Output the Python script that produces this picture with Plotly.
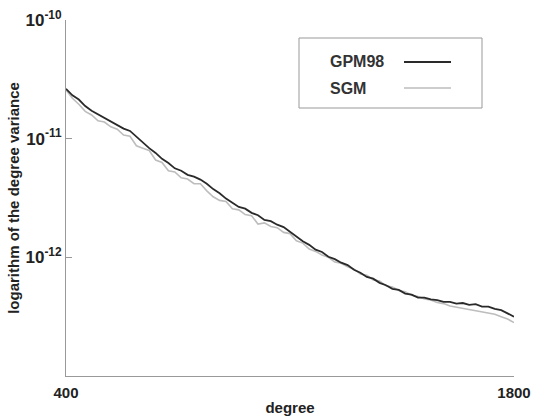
import plotly.graph_objects as go

degree = list(range(400, 1801, 20))

# log10 of degree variance
gpm98_log = [
    -10.58, -10.635, -10.67, -10.725, -10.765, -10.795, -10.825, -10.855, -10.88, -10.915,
    -10.935, -10.985, -11.03, -11.08, -11.12, -11.17, -11.205, -11.25, -11.27, -11.305,
    -11.32, -11.345, -11.38, -11.425, -11.46, -11.505, -11.54, -11.575, -11.59, -11.625,
    -11.645, -11.685, -11.695, -11.725, -11.745, -11.785, -11.82, -11.865, -11.895, -11.935,
    -11.955, -11.995, -12.015, -12.045, -12.065, -12.105, -12.13, -12.165, -12.18, -12.215,
    -12.235, -12.265, -12.275, -12.305, -12.315, -12.34, -12.34, -12.355, -12.36, -12.375,
    -12.375, -12.39, -12.385, -12.40, -12.395, -12.415, -12.415, -12.435, -12.445, -12.475,
    -12.50,
]
sgm_log = [
    -10.59, -10.66, -10.71, -10.77, -10.80, -10.85, -10.86, -10.90, -10.92, -10.97,
    -10.98, -11.06, -11.08, -11.10, -11.18, -11.20, -11.27, -11.28, -11.33, -11.34,
    -11.38, -11.38, -11.44, -11.49, -11.52, -11.53, -11.59, -11.60, -11.64, -11.65,
    -11.72, -11.71, -11.74, -11.75, -11.79, -11.80, -11.86, -11.88, -11.93, -11.95,
    -11.98, -12.00, -12.04, -12.05, -12.08, -12.10, -12.14, -12.15, -12.19, -12.20,
    -12.24, -12.25, -12.28, -12.29, -12.32, -12.33, -12.35, -12.36, -12.38, -12.39,
    -12.41, -12.42, -12.43, -12.44, -12.45, -12.46, -12.47, -12.48, -12.50, -12.52,
    -12.55,
]
gpm98 = [10 ** v for v in gpm98_log]
sgm = [10 ** v for v in sgm_log]

x_ticks = [400, 1800]
y_ticks = [1e-12, 1e-11, 1e-10]
y_ticktext = ["10<sup>-12</sup>", "10<sup>-11</sup>", "10<sup>-10</sup>"]
y_minor = [m * 10.0 ** e for e in (-13, -12, -11) for m in range(2, 10)]
series_names = ["GPM98", "SGM"]
series_colors = ["#2a2a2a", "#bdbdbd"]

FONT = "Liberation Sans"
fig = go.Figure()
fig.add_trace(go.Scatter(x=degree, y=sgm, mode="lines", name=series_names[1],
                         line=dict(color=series_colors[1], width=1.6), showlegend=False))
fig.add_trace(go.Scatter(x=degree, y=gpm98, mode="lines", name=series_names[0],
                         line=dict(color=series_colors[0], width=1.8), showlegend=False))

fig.update_layout(
    width=536, height=420,
    margin=dict(l=66, r=22, t=20, b=44),
    paper_bgcolor="white", plot_bgcolor="white",
    font=dict(family=FONT, color="#222"),
    xaxis=dict(range=[400, 1800], tickvals=x_ticks, ticktext=[str(v) for v in x_ticks],
               showgrid=False, zeroline=False, showline=True, linecolor="#999", linewidth=1,
               ticks="inside", ticklen=5, tickcolor="#999", ticklabelstandoff=3,
               automargin=False,
               tickfont=dict(size=15, family=FONT, weight="bold", color="#222"),
               title=dict(text="degree", font=dict(size=15, family=FONT, weight="bold"), standoff=2)),
    yaxis=dict(type="log", range=[-13, -10], tickvals=y_ticks, ticktext=y_ticktext,
               showgrid=False, zeroline=False, showline=True, linecolor="#999", linewidth=1,
               ticks="inside", ticklen=6, tickcolor="#999", automargin=False,
               tickfont=dict(size=17, family=FONT, weight="bold", color="#222"),
               title=dict(text="logarithm of the degree variance",
                          font=dict(size=15, family=FONT, weight="bold"), standoff=2)),
    yaxis2=dict(type="log", range=[-13, -10], overlaying="y", side="left",
                tickvals=y_minor, showticklabels=False, ticks="inside", ticklen=4,
                tickcolor="#aaa", showgrid=False, zeroline=False, showline=False,
                automargin=False),
)

# legend box (text then line sample)
fig.add_shape(type="rect", xref="paper", yref="paper",
              x0=(299 - 66) / 448, x1=(482 - 66) / 448,
              y0=(376 - 108) / 356, y1=(376 - 38) / 356,
              line=dict(color="#999", width=1), fillcolor="white")
for i, (name, col, w) in enumerate(zip(series_names, series_colors, [2.2, 1.6])):
    ypix = 62 + i * 26
    yp = (376 - ypix) / 356
    fig.add_annotation(xref="paper", yref="paper", x=(328 - 66) / 448, y=yp,
                       text=name, showarrow=False, xanchor="left", yanchor="middle",
                       font=dict(size=16, family=FONT, weight="bold", color="#333"))
    fig.add_shape(type="line", xref="paper", yref="paper",
                  x0=(404 - 66) / 448, x1=(451 - 66) / 448, y0=yp, y1=yp,
                  line=dict(color=col, width=w))

fig.write_html("out.html")
